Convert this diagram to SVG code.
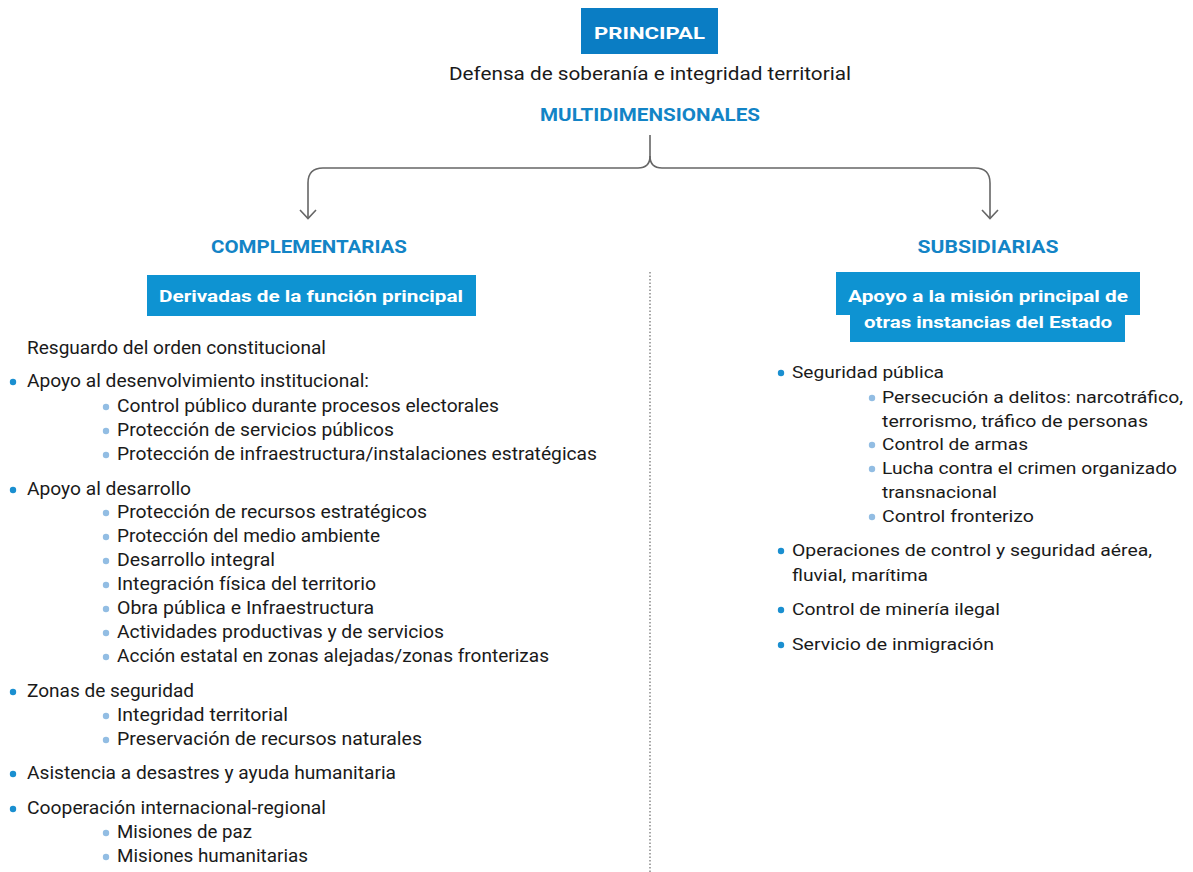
<svg xmlns="http://www.w3.org/2000/svg" width="1193" height="872" viewBox="0 0 1193 872">
<style>
.t{font-family:Roboto,"Liberation Sans",sans-serif;font-size:17px;fill:#1a1a1a}
.l{font-size:18px}
.h{font-family:Roboto,"Liberation Sans",sans-serif;font-size:17.5px;font-weight:bold;fill:#1384c6}
.w{font-family:Roboto,"Liberation Sans",sans-serif;font-size:17px;font-weight:bold;fill:#ffffff}
.b1{fill:#1a8fd0}
.b2{fill:#92bde3}
.ln{fill:none;stroke:#666;stroke-width:1.6}
</style>
<rect width="1193" height="872" fill="#ffffff"/>
<g id="principal">
<rect x="581" y="8" width="137" height="46" fill="#0a7dc4"/>
<text class="w" x="649.5" y="39" text-anchor="middle" font-size="20" textLength="111" lengthAdjust="spacingAndGlyphs">PRINCIPAL</text>
</g>
<g id="defensa"><text class="t l" x="650" y="80" text-anchor="middle" textLength="402" lengthAdjust="spacingAndGlyphs">Defensa de soberanía e integridad territorial</text></g>
<g id="multi"><text class="h" x="650" y="121" text-anchor="middle" textLength="220" lengthAdjust="spacingAndGlyphs">MULTIDIMENSIONALES</text></g>
<g id="connectors">
<path class="ln" d="M650,135 V156 Q650,168 638,168 H323 Q308,168 308,183 V218"/>
<path class="ln" d="M650,156 Q650,168 662,168 H975 Q990,168 990,183 V218"/>
<polyline class="ln" points="300,210 308,218.5 316,210"/>
<polyline class="ln" points="982,210 990,218.5 998,210"/>
<line x1="650" y1="272" x2="650" y2="872" stroke="#777" stroke-width="1.3" stroke-dasharray="1.5,2"/>
</g>
<g id="complementarias">
<text class="h" x="309" y="253" text-anchor="middle" textLength="196" lengthAdjust="spacingAndGlyphs">COMPLEMENTARIAS</text>
<rect x="147" y="275" width="329" height="41" fill="#0e93d2"/>
<text class="w" x="311" y="302" text-anchor="middle" textLength="304" lengthAdjust="spacingAndGlyphs">Derivadas de la función principal</text>
</g>
<g id="lista-complementarias">
<text class="t l" x="27" y="354" textLength="299" lengthAdjust="spacingAndGlyphs">Resguardo del orden constitucional</text>
<circle class="b1" cx="13" cy="382" r="3.2"/>
<text class="t l" x="27" y="387" textLength="342" lengthAdjust="spacingAndGlyphs">Apoyo al desenvolvimiento institucional:</text>
<circle class="b2" cx="106" cy="407" r="3.2"/>
<text class="t l" x="117" y="412" textLength="382" lengthAdjust="spacingAndGlyphs">Control público durante procesos electorales</text>
<circle class="b2" cx="106" cy="431" r="3.2"/>
<text class="t l" x="117" y="436" textLength="277" lengthAdjust="spacingAndGlyphs">Protección de servicios públicos</text>
<circle class="b2" cx="106" cy="455" r="3.2"/>
<text class="t l" x="117" y="460" textLength="480" lengthAdjust="spacingAndGlyphs">Protección de infraestructura/instalaciones estratégicas</text>
<circle class="b1" cx="13" cy="490" r="3.2"/>
<text class="t l" x="27" y="495" textLength="164" lengthAdjust="spacingAndGlyphs">Apoyo al desarrollo</text>
<circle class="b2" cx="106" cy="513" r="3.2"/>
<text class="t l" x="117" y="518" textLength="310" lengthAdjust="spacingAndGlyphs">Protección de recursos estratégicos</text>
<circle class="b2" cx="106" cy="537" r="3.2"/>
<text class="t l" x="117" y="542" textLength="263" lengthAdjust="spacingAndGlyphs">Protección del medio ambiente</text>
<circle class="b2" cx="106" cy="561" r="3.2"/>
<text class="t l" x="117" y="566" textLength="158" lengthAdjust="spacingAndGlyphs">Desarrollo integral</text>
<circle class="b2" cx="106" cy="585" r="3.2"/>
<text class="t l" x="117" y="590" textLength="259" lengthAdjust="spacingAndGlyphs">Integración física del territorio</text>
<circle class="b2" cx="106" cy="609" r="3.2"/>
<text class="t l" x="117" y="614" textLength="257" lengthAdjust="spacingAndGlyphs">Obra pública e Infraestructura</text>
<circle class="b2" cx="106" cy="633" r="3.2"/>
<text class="t l" x="117" y="638" textLength="327" lengthAdjust="spacingAndGlyphs">Actividades productivas y de servicios</text>
<circle class="b2" cx="106" cy="657" r="3.2"/>
<text class="t l" x="117" y="662" textLength="432" lengthAdjust="spacingAndGlyphs">Acción estatal en zonas alejadas/zonas fronterizas</text>
<circle class="b1" cx="13" cy="692" r="3.2"/>
<text class="t l" x="27" y="697" textLength="167" lengthAdjust="spacingAndGlyphs">Zonas de seguridad</text>
<circle class="b2" cx="106" cy="716" r="3.2"/>
<text class="t l" x="117" y="721" textLength="171" lengthAdjust="spacingAndGlyphs">Integridad territorial</text>
<circle class="b2" cx="106" cy="740" r="3.2"/>
<text class="t l" x="117" y="745" textLength="305" lengthAdjust="spacingAndGlyphs">Preservación de recursos naturales</text>
<circle class="b1" cx="13" cy="774" r="3.2"/>
<text class="t l" x="27" y="779" textLength="369" lengthAdjust="spacingAndGlyphs">Asistencia a desastres y ayuda humanitaria</text>
<circle class="b1" cx="13" cy="809" r="3.2"/>
<text class="t l" x="27" y="814" textLength="299" lengthAdjust="spacingAndGlyphs">Cooperación internacional-regional</text>
<circle class="b2" cx="106" cy="833" r="3.2"/>
<text class="t l" x="117" y="838" textLength="135" lengthAdjust="spacingAndGlyphs">Misiones de paz</text>
<circle class="b2" cx="106" cy="857" r="3.2"/>
<text class="t l" x="117" y="862" textLength="191" lengthAdjust="spacingAndGlyphs">Misiones humanitarias</text>
</g>
<g id="subsidiarias">
<text class="h" x="988" y="253" text-anchor="middle" textLength="141" lengthAdjust="spacingAndGlyphs">SUBSIDIARIAS</text>
<rect x="836" y="272" width="304" height="43" fill="#0e93d2"/>
<rect x="850" y="314" width="275" height="28" fill="#0e93d2"/>
<text class="w" x="988" y="302" text-anchor="middle" textLength="280" lengthAdjust="spacingAndGlyphs">Apoyo a la misión principal de</text>
<text class="w" x="988" y="328" text-anchor="middle" textLength="248" lengthAdjust="spacingAndGlyphs">otras instancias del Estado</text>
</g>
<g id="lista-subsidiarias">
<circle class="b1" cx="781" cy="373" r="3.2"/>
<text class="t" x="792" y="378" textLength="152" lengthAdjust="spacingAndGlyphs">Seguridad pública</text>
<circle class="b2" cx="872" cy="398" r="3.2"/>
<text class="t" x="882" y="403" textLength="301" lengthAdjust="spacingAndGlyphs">Persecución a delitos: narcotráfico,</text>
<text class="t" x="882" y="427" textLength="266" lengthAdjust="spacingAndGlyphs">terrorismo, tráfico de personas</text>
<circle class="b2" cx="872" cy="445" r="3.2"/>
<text class="t" x="882" y="450" textLength="146" lengthAdjust="spacingAndGlyphs">Control de armas</text>
<circle class="b2" cx="872" cy="469" r="3.2"/>
<text class="t" x="882" y="474" textLength="295" lengthAdjust="spacingAndGlyphs">Lucha contra el crimen organizado</text>
<text class="t" x="882" y="498" textLength="115" lengthAdjust="spacingAndGlyphs">transnacional</text>
<circle class="b2" cx="872" cy="517" r="3.2"/>
<text class="t" x="882" y="522" textLength="152" lengthAdjust="spacingAndGlyphs">Control fronterizo</text>
<circle class="b1" cx="781" cy="551" r="3.2"/>
<text class="t" x="792" y="556" textLength="360" lengthAdjust="spacingAndGlyphs">Operaciones de control y seguridad aérea,</text>
<text class="t" x="792" y="581" textLength="136" lengthAdjust="spacingAndGlyphs">fluvial, marítima</text>
<circle class="b1" cx="781" cy="610" r="3.2"/>
<text class="t" x="792" y="615" textLength="208" lengthAdjust="spacingAndGlyphs">Control de minería ilegal</text>
<circle class="b1" cx="781" cy="645" r="3.2"/>
<text class="t" x="792" y="650" textLength="202" lengthAdjust="spacingAndGlyphs">Servicio de inmigración</text>
</g>
</svg>
